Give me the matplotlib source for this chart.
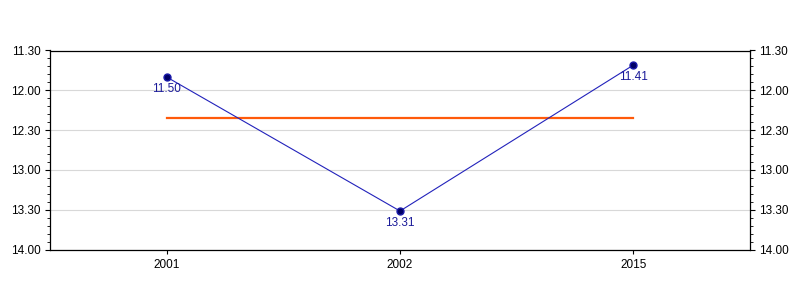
import matplotlib.pyplot as plt
from matplotlib.ticker import FuncFormatter, MultipleLocator

plt.rcParams['font.family'] = ['Liberation Sans', 'DejaVu Sans']

years = ['2001', '2002', '2015']
times = ['11.50', '13.31', '11.41']  # minutes.seconds


def to_sec(t):
    m, s = t.split('.')
    return int(m) * 60 + int(s)


def fmt(v, pos=None):
    v = int(round(v))
    return f'{v // 60}.{v % 60:02d}'


secs = [to_sec(t) for t in times]
avg = sum(secs) / len(secs)
x = list(range(len(years)))

fig = plt.figure(figsize=(8, 3), dpi=100)
ax = fig.add_axes([50 / 800, 50.5 / 300, 700 / 800, 199 / 300])

ax.plot(x, secs, color='#2222bb', lw=0.8, marker='o', ms=5,
        mfc='#000066', mec='#1a1aaa', zorder=3)
ax.plot([x[0], x[-1]], [avg, avg], color='#ff5a0a', lw=1.6, zorder=2)
for xi, s, t in zip(x, secs, times):
    ax.annotate(t, (xi, s), xytext=(0, -4), textcoords='offset points',
                ha='center', va='top', fontsize=8.5, color='#1a1a99')

ax.set_xlim(-0.5, 2.5)
ax.set_ylim(840, 690)
ax.set_xticks(x)
ax.set_xticklabels(years)
ax.yaxis.set_major_locator(MultipleLocator(30))
ax.yaxis.set_minor_locator(MultipleLocator(6))
ax.yaxis.set_major_formatter(FuncFormatter(fmt))
ax.grid(axis='y', color='#d8d8d8', lw=0.8)
ax.set_axisbelow(True)
ax.tick_params(axis='y', which='both', left=True, right=True,
               labelleft=True, labelright=True, labelsize=8.5, pad=3)
ax.tick_params(axis='y', which='major', length=3.8)
ax.tick_params(axis='y', which='minor', length=2.2)
ax.tick_params(axis='x', labelsize=8.5, length=3)
for sp in ax.spines.values():
    sp.set_linewidth(0.9)

fig.savefig('out.png', dpi=100)
